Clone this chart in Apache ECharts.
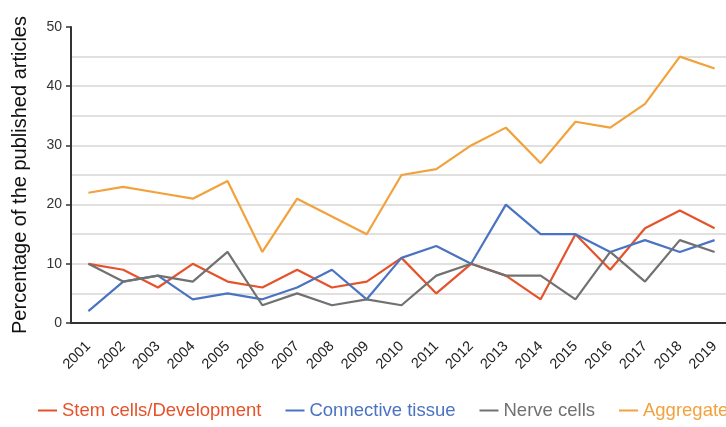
<!DOCTYPE html>
<html>
<head>
<meta charset="utf-8">
<script src="https://cdn.jsdelivr.net/npm/echarts@6/dist/echarts.min.js"></script>
<style>
  html, body { margin: 0; padding: 0; background: #fff; }
  #chart { width: 726px; height: 427px; }
</style>
</head>
<body>
<div id="chart"></div>
<script>
const years = ['2001', '2002', '2003', '2004', '2005', '2006', '2007', '2008', '2009', '2010',
               '2011', '2012', '2013', '2014', '2015', '2016', '2017', '2018', '2019'];
const stemCells = [10, 9, 6, 10, 7, 6, 9, 6, 7, 11, 5, 10, 8, 4, 15, 9, 16, 19, 16];
const connective = [2, 7, 8, 4, 5, 4, 6, 9, 4, 11, 13, 10, 20, 15, 15, 12, 14, 12, 14];
const nerveCells = [10, 7, 8, 7, 12, 3, 5, 3, 4, 3, 8, 10, 8, 8, 4, 12, 7, 14, 12];
const aggregate = [22, 23, 22, 21, 24, 12, 21, 18, 15, 25, 26, 30, 33, 27, 34, 33, 37, 45, 43];

const names = ['Stem cells/Development', 'Connective tissue', 'Nerve cells', 'Aggregate'];
const colors = ['#E5532B', '#4A74C2', '#717171', '#F2A23C'];
const values = [stemCells, connective, nerveCells, aggregate];

const chart = echarts.init(document.getElementById('chart'));

const option = {
    animation: false,
    textStyle: { fontFamily: 'Liberation Sans, Arial, sans-serif' },
    grid: { left: 71, right: -6, top: 27, bottom: 104, outerBoundsMode: 'none', containLabel: false },
    legend: {
        left: 33,
        bottom: 2,
        width: 800,
        icon: 'rect',
        itemWidth: 19,
        itemHeight: 2,
        itemGap: 24,
        data: names.map((n, i) => ({
            name: n,
            textStyle: { color: colors[i], fontSize: 18.5 }
        }))
    },
    xAxis: {
        type: 'category',
        data: years,
        boundaryGap: true,
        axisLine: { lineStyle: { color: '#333', width: 2 } },
        axisTick: { show: false },
        axisLabel: {
            rotate: 45,
            interval: 0,
            color: '#222',
            fontSize: 14.5,
            margin: 21
        }
    },
    yAxis: {
        type: 'value',
        min: 0,
        max: 50,
        interval: 10,
        name: 'Percentage of the published articles',
        nameLocation: 'middle',
        nameGap: 41,
        nameTextStyle: { color: '#111', fontSize: 20 },
        axisLine: { show: true, lineStyle: { color: '#333', width: 2 } },
        axisTick: { show: true, length: 5, lineStyle: { color: '#333', width: 1.5 } },
        axisLabel: { color: '#333', fontSize: 14, margin: 9 },
        splitLine: { show: true, showMaxLine: false, lineStyle: { color: '#D9D5D5', width: 1.5 } },
        minorTick: { show: false, splitNumber: 2 },
        minorSplitLine: { show: true, lineStyle: { color: '#D9D5D5', width: 1.5 } }
    },
    series: names.map((n, i) => ({
        name: n,
        type: 'line',
        data: values[i],
        symbol: 'none',
        color: colors[i],
        lineStyle: { width: 2.2, color: colors[i] }
    }))
};

chart.setOption(option);
</script>
</body>
</html>
